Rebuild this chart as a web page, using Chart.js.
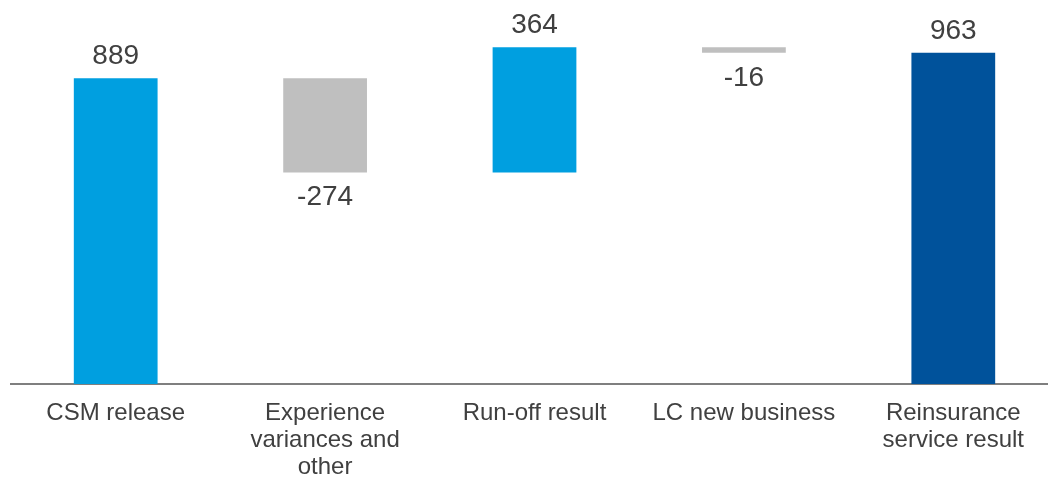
<!DOCTYPE html>
<html>
<head>
<meta charset="utf-8">
<script src="https://cdn.jsdelivr.net/npm/chart.js@4"></script>
<style>
  html, body { margin: 0; padding: 0; background: #ffffff; overflow: hidden; }
  #wrap { position: relative; width: 1058px; height: 478px; }
</style>
</head>
<body>
<div id="wrap"><canvas id="chart"></canvas></div>
<script>
// Waterfall: bridge from CSM release to reinsurance service result
const categories = [
  'CSM release',
  ['Experience', 'variances and', 'other'],
  'Run-off result',
  'LC new business',
  ['Reinsurance', 'service result']
];
const stepValues = [889, -274, 364, -16, 963];
const isTotal = [false, false, false, false, true];

// Floating [start, end] ranges built from the steps
const ranges = [];
let running = 0;
stepValues.forEach((v, i) => {
  if (isTotal[i]) {
    ranges.push([0, v]);
    running = v;
  } else {
    ranges.push([running, running + v]);
    running += v;
  }
});

const barColors = stepValues.map((v, i) =>
  isTotal[i] ? '#00529B' : (v < 0 ? '#BFBFBF' : '#009FE0'));

const valueLabels = {
  id: 'valueLabels',
  afterDatasetsDraw(chart) {
    const ctx = chart.ctx;
    const meta = chart.getDatasetMeta(0);
    ctx.save();
    ctx.font = '28px "Liberation Sans", Arial, sans-serif';
    ctx.fillStyle = '#404040';
    ctx.textAlign = 'center';
    ctx.textBaseline = 'alphabetic';
    meta.data.forEach((bar, i) => {
      const v = stepValues[i];
      const top = Math.min(bar.y, bar.base);
      const bottom = Math.max(bar.y, bar.base);
      if (v >= 0) {
        ctx.fillText(String(v), bar.x, top - 14);
      } else {
        ctx.fillText(String(v), bar.x, bottom + 33);
      }
    });
    ctx.restore();
  }
};

new Chart(document.getElementById('chart'), {
  type: 'bar',
  data: {
    labels: categories,
    datasets: [{
      data: ranges,
      backgroundColor: barColors,
      borderWidth: 0,
      barPercentage: 0.40,
      categoryPercentage: 1.0
    }]
  },
  options: {
    responsive: true,
    maintainAspectRatio: false,
    animation: false,
    layout: { padding: { left: 11, right: 0, top: 40, bottom: 0 } },
    plugins: {
      legend: { display: false },
      tooltip: { enabled: false }
    },
    scales: {
      x: {
        grid: { display: false, drawTicks: false },
        border: { display: true, color: '#7F7F7F', width: 2 },
        ticks: {
          color: '#404040',
          padding: 16,
          maxRotation: 0,
          autoSkip: false,
          font: { family: '"Liberation Sans", Arial, sans-serif', size: 24, lineHeight: 1.125 }
        },
        afterFit(scale) { scale.height = 94; }
      },
      y: {
        display: false,
        min: 0,
        max: 1000
      }
    }
  },
  plugins: [valueLabels]
});
</script>
</body>
</html>
